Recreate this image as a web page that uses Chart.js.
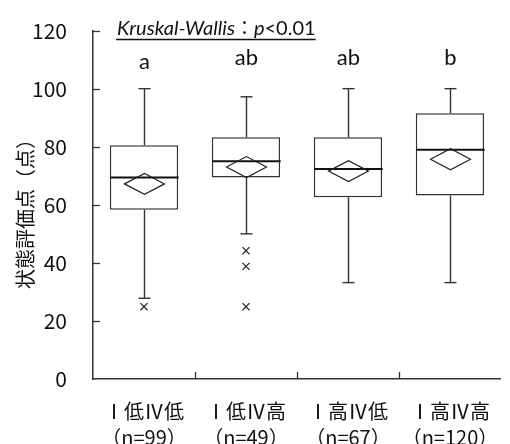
<!DOCTYPE html>
<html>
<head>
<meta charset="utf-8">
<script src="https://cdn.jsdelivr.net/npm/chart.js@4"></script>
<style>
  html, body { margin: 0; padding: 0; background: #fff; }
  #wrap { width: 510px; height: 444px; }
</style>
</head>
<body>
<div id="wrap"><canvas id="chart"></canvas></div>
<script>
// Groups and their box plot summaries
const categories = [['Ⅰ低Ⅳ低', '（n=99）'], ['Ⅰ低Ⅳ高', '（n=49）'], ['Ⅰ高Ⅳ低', '（n=67）'], ['Ⅰ高Ⅳ高', '（n=120）']];
const whiskerLow = [27.8, 50.0, 33.2, 33.2];
const q1 = [58.3, 69.4, 62.6, 63.2];
const median = [69.4, 75.0, 72.3, 79.0];
const q3 = [80.5, 83.3, 83.3, 91.5];
const whiskerHigh = [100, 97.2, 100, 100];
const means = [67.2, 73.0, 71.6, 75.7];
const outliers = [[24.9], [44.2, 38.8, 24.9], [], []];
const groupLetters = ['a', 'ab', 'ab', 'b'];
const yTicks = [0, 20, 40, 60, 80, 100, 120];
const yTitle = '状態評価点（点）';

const lineColor = '#333';
const jpFont = '"Noto Sans CJK JP", sans-serif';

// Draw whiskers, medians, mean diamonds, letters and the test label
const boxExtras = {
    id: 'boxExtras',
    afterDatasetsDraw(chart) {
        const { ctx, scales: { x, y }, chartArea } = chart;
        const bars = chart.getDatasetMeta(0).data;
        ctx.save();
        ctx.lineCap = 'butt';

        // inward tick marks
        ctx.strokeStyle = '#333';
        ctx.lineWidth = 1.3;
        yTicks.forEach(v => {
            if (v === 0) return;
            const py = Math.round(y.getPixelForValue(v)) + 0.5;
            ctx.beginPath();
            ctx.moveTo(chartArea.left, py);
            ctx.lineTo(chartArea.left + 7, py);
            ctx.stroke();
        });
        const catW = (chartArea.right - chartArea.left) / categories.length;
        for (let k = 1; k < categories.length; k++) {
            const px = Math.round(chartArea.left + k * catW) + 0.5;
            ctx.beginPath();
            ctx.moveTo(px, chartArea.bottom);
            ctx.lineTo(px, chartArea.bottom - 7);
            ctx.stroke();
        }

        categories.forEach((c, i) => {
            const cx = Math.round(x.getPixelForValue(i)) + 0.5;
            const bw = bars[i].width;
            // whiskers
            ctx.strokeStyle = lineColor;
            ctx.lineWidth = 1.4;
            ctx.beginPath();
            ctx.moveTo(cx, y.getPixelForValue(q3[i]));
            ctx.lineTo(cx, y.getPixelForValue(whiskerHigh[i]));
            ctx.moveTo(cx, y.getPixelForValue(q1[i]));
            ctx.lineTo(cx, y.getPixelForValue(whiskerLow[i]));
            ctx.stroke();
            // caps
            [whiskerHigh[i], whiskerLow[i]].forEach(v => {
                const py = y.getPixelForValue(v);
                ctx.beginPath();
                ctx.moveTo(cx - 6, py);
                ctx.lineTo(cx + 6, py);
                ctx.stroke();
            });
            // median
            ctx.strokeStyle = '#111';
            ctx.lineWidth = 2;
            const my = y.getPixelForValue(median[i]);
            ctx.beginPath();
            ctx.moveTo(cx - bw / 2, my);
            ctx.lineTo(cx + bw / 2, my);
            ctx.stroke();
            // mean diamond
            const dy = y.getPixelForValue(means[i]);
            ctx.lineWidth = 1.2;
            ctx.strokeStyle = '#222';
            ctx.beginPath();
            ctx.moveTo(cx - 20, dy);
            ctx.lineTo(cx, dy - 10.5);
            ctx.lineTo(cx + 20, dy);
            ctx.lineTo(cx, dy + 10.5);
            ctx.closePath();
            ctx.stroke();
            // significance letters
            ctx.fillStyle = '#111';
            ctx.font = '22px Lato, sans-serif';
            ctx.textAlign = 'center';
            ctx.textBaseline = 'alphabetic';
            ctx.fillText(groupLetters[i], cx, i === 0 ? 69 : 64.5);
        });

        // Kruskal-Wallis label
        ctx.textAlign = 'left';
        ctx.fillStyle = '#111';
        const parts = [
            { t: 'Kruskal-Wallis', f: 'italic 20px Lato, sans-serif' },
            { t: '：', f: '19px ' + jpFont },
            { t: 'p', f: 'italic 20px Lato, sans-serif' },
            { t: '<0.01', f: '20px Lato, sans-serif' }
        ];
        let tx = 117;
        parts.forEach(p => {
            ctx.font = p.f;
            ctx.fillText(p.t, tx, 35);
            tx += ctx.measureText(p.t).width;
        });
        ctx.strokeStyle = '#111';
        ctx.lineWidth = 1.5;
        ctx.beginPath();
        ctx.moveTo(116, 39.5);
        ctx.lineTo(tx, 39.5);
        ctx.stroke();

        // y axis title
        ctx.translate(25, 209);
        ctx.rotate(-Math.PI / 2);
        ctx.font = '20px ' + jpFont;
        ctx.textAlign = 'center';
        ctx.textBaseline = 'middle';
        ctx.fillText(yTitle, 0, 0);
        ctx.restore();
    }
};

// one point series per outlier rank, null where a group has none
const outlierSets = [];
const maxOut = Math.max(...outliers.map(l => l.length));
for (let k = 0; k < maxOut; k++) {
    outlierSets.push({
        type: 'line',
        data: outliers.map(l => (l[k] === undefined ? null : l[k])),
        showLine: false,
        pointStyle: 'crossRot',
        pointRadius: 5,
        borderColor: '#222',
        borderWidth: 1.2
    });
}

new Chart(document.getElementById('chart'), {
    type: 'bar',
    data: {
        labels: categories,
        datasets: [{
            data: q1.map((v, i) => [v, q3[i]]),
            backgroundColor: '#fff',
            borderColor: lineColor,
            borderWidth: 1.5,
            borderSkipped: false,
            categoryPercentage: 1,
            barPercentage: 0.67
        }, ...outlierSets]
    },
    options: {
        responsive: true,
        maintainAspectRatio: false,
        animation: false,
        layout: { padding: { top: 24, right: 0, left: 0, bottom: 0 } },
        plugins: { legend: { display: false }, tooltip: { enabled: false } },
        scales: {
            x: {
                grid: { display: false },
                border: { display: true, color: '#333', width: 1.5 },
                ticks: {
                    color: '#111',
                    padding: 11,
                    maxRotation: 0,
                    font: { family: 'Noto Sans CJK JP', size: 20, lineHeight: 1.3 }
                },
                afterFit(scale) { scale.height = 65; }
            },
            y: {
                min: 0,
                max: 120,
                grid: { display: false },
                border: { display: true, color: '#333', width: 1.5 },
                ticks: {
                    stepSize: 20,
                    color: '#111',
                    padding: 18,
                    font: { family: '"Liberation Sans Narrow", "Noto Sans CJK JP", sans-serif', size: 21 }
                },
                afterFit(scale) { scale.width = 93; }
            }
        }
    },
    plugins: [boxExtras]
});
</script>
</body>
</html>
